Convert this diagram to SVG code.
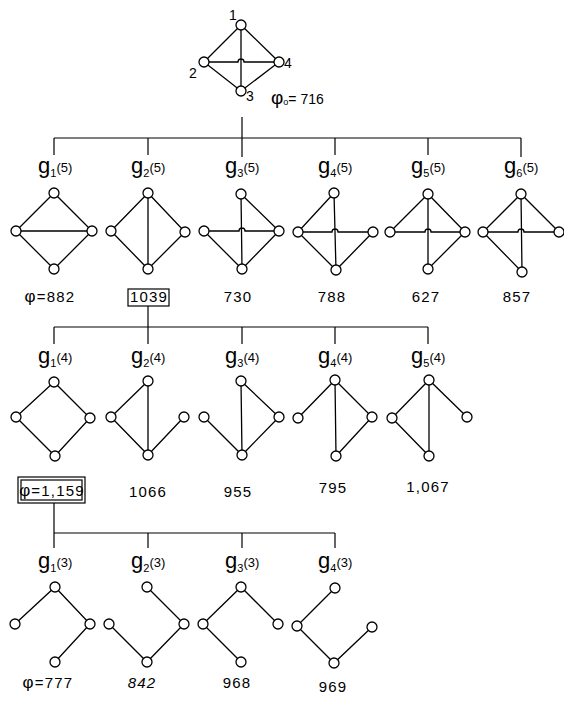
<svg xmlns="http://www.w3.org/2000/svg" width="564" height="703" viewBox="0 0 564 703">
<style>
.e{stroke:#000;stroke-width:1.3;fill:none}
.c{stroke:#000;stroke-width:1.2;fill:none}
.v{fill:#fff;stroke:#000;stroke-width:1.3}
text{font-family:"Liberation Sans",Arial,sans-serif;fill:#000}
.g{font-size:22px}
.sub{font-size:11px}
.sup{font-size:13px}
.n{font-size:15px;letter-spacing:1.2px;text-anchor:middle}
.lab{font-size:14px}
.box{fill:none;stroke:#000;stroke-width:1.2}
</style>
<rect width="564" height="703" fill="#fff"/>

<g id="connectors">
  <path class="c" d="M242,117 V157 M54,138 H521 M54,138 V155 M148,138 V155 M335,138 V155 M428,138 V155 M521,138 V157"/>
  <path class="c" d="M148,306 V344 M54,327 H428 M54,327 V344 M242,327 V344 M335,327 V344 M428,327 V344"/>
  <path class="c" d="M54,503 V548 M54,533 H335 M148,533 V548 M242,533 V548 M335,533 V548"/>
</g>

<g id="g0">
  <path class="e" d="M241,25 L204,62 L241,91 L279,62 Z M241,25 V91 M204,62 H238 a3,3 0 0 1 6,0 H279"/>
  <circle class="v" cx="241" cy="25" r="5"/><circle class="v" cx="204" cy="62" r="5"/>
  <circle class="v" cx="279" cy="62" r="5"/><circle class="v" cx="241" cy="91" r="5"/>
  <text class="lab" x="229" y="20">1</text>
  <text class="lab" x="189" y="78">2</text>
  <text class="lab" x="284" y="68">4</text>
  <text class="lab" x="246" y="101">3</text>
  <text class="lab" x="271" y="104" font-size="15"><tspan font-size="19">φ</tspan><tspan font-size="9" dy="1">o</tspan><tspan dy="-1">= 716</tspan></text>
</g>

<!-- row 1 -->
<g id="g1_5">
  <text class="g" x="38" y="173">g<tspan class="sub" dy="4">1</tspan><tspan class="sup" dy="-5">(5)</tspan></text>
  <path class="e" d="M54,193 L16,231 L54,269 L92,231 Z M16,231 H92"/>
  <circle class="v" cx="54" cy="193" r="5"/><circle class="v" cx="16" cy="231" r="5"/>
  <circle class="v" cx="92" cy="231" r="5"/><circle class="v" cx="54" cy="269" r="5"/>
  <text class="n" x="50" y="302"><tspan font-size="17">φ</tspan>=882</text>
</g>
<g id="g2_5">
  <text class="g" x="131" y="173">g<tspan class="sub" dy="4">2</tspan><tspan class="sup" dy="-5">(5)</tspan></text>
  <path class="e" d="M148,193 L111,231 L148,269 L185,232 Z M148,193 V269"/>
  <circle class="v" cx="148" cy="193" r="5"/><circle class="v" cx="111" cy="231" r="5"/>
  <circle class="v" cx="185" cy="232" r="5"/><circle class="v" cx="148" cy="269" r="5"/>
  <rect class="box" x="128" y="289" width="41" height="17"/>
  <text class="n" x="149" y="302" letter-spacing="0.3">1039</text>
</g>
<g id="g3_5">
  <text class="g" x="225" y="173">g<tspan class="sub" dy="4">3</tspan><tspan class="sup" dy="-5">(5)</tspan></text>
  <path class="e" d="M241,194 L279,231 L242,269 L204,231 M241,194 L242,269 M204,231 H239 a3,3 0 0 1 6,0 H279"/>
  <circle class="v" cx="241" cy="194" r="5"/><circle class="v" cx="204" cy="231" r="5"/>
  <circle class="v" cx="279" cy="231" r="5"/><circle class="v" cx="242" cy="269" r="5"/>
  <text class="n" x="238" y="302">730</text>
</g>
<g id="g4_5">
  <text class="g" x="318" y="173">g<tspan class="sub" dy="4">4</tspan><tspan class="sup" dy="-5">(5)</tspan></text>
  <path class="e" d="M334,193 L298,232 L336,270 L373,232 M334,193 L336,270 M298,232 H332 a3,3 0 0 1 6,0 H373"/>
  <circle class="v" cx="334" cy="193" r="5"/><circle class="v" cx="298" cy="232" r="5"/>
  <circle class="v" cx="373" cy="232" r="5"/><circle class="v" cx="336" cy="270" r="5"/>
  <text class="n" x="332" y="302">788</text>
</g>
<g id="g5_5">
  <text class="g" x="411" y="173">g<tspan class="sub" dy="4">5</tspan><tspan class="sup" dy="-5">(5)</tspan></text>
  <path class="e" d="M390,232 L428,194 L465,232 L428,269 M428,194 V269 M390,232 H425 a3,3 0 0 1 6,0 H465"/>
  <circle class="v" cx="428" cy="194" r="5"/><circle class="v" cx="390" cy="232" r="5"/>
  <circle class="v" cx="465" cy="232" r="5"/><circle class="v" cx="428" cy="269" r="5"/>
  <text class="n" x="426" y="302">627</text>
</g>
<g id="g6_5">
  <text class="g" x="504" y="173">g<tspan class="sub" dy="4">6</tspan><tspan class="sup" dy="-5">(5)</tspan></text>
  <path class="e" d="M522,272 L483,232 L521,194 L559,232 M521,194 L522,272 M483,232 H518 a3,3 0 0 1 6,0 H559"/>
  <circle class="v" cx="521" cy="194" r="5"/><circle class="v" cx="483" cy="232" r="5"/>
  <circle class="v" cx="559" cy="232" r="5"/><circle class="v" cx="522" cy="272" r="5"/>
  <text class="n" x="517" y="302">857</text>
</g>

<!-- row 2 -->
<g id="g1_4">
  <text class="g" x="38" y="363">g<tspan class="sub" dy="4">1</tspan><tspan class="sup" dy="-5">(4)</tspan></text>
  <path class="e" d="M54,382 L16,417 L55,456 L90,418 Z"/>
  <circle class="v" cx="54" cy="382" r="5"/><circle class="v" cx="16" cy="417" r="5"/>
  <circle class="v" cx="90" cy="418" r="5"/><circle class="v" cx="55" cy="456" r="5"/>
  <rect class="box" x="18" y="477" width="67" height="26"/>
  <rect class="box" x="21" y="480" width="61" height="20"/>
  <text class="n" x="52" y="496" letter-spacing="0"><tspan font-size="17">φ</tspan>=1,159</text>
</g>
<g id="g2_4">
  <text class="g" x="131" y="363">g<tspan class="sub" dy="4">2</tspan><tspan class="sup" dy="-5">(4)</tspan></text>
  <path class="e" d="M148,381 L111,417 L148,455 L184,417 M148,381 V455"/>
  <circle class="v" cx="148" cy="381" r="5"/><circle class="v" cx="111" cy="417" r="5"/>
  <circle class="v" cx="184" cy="417" r="5"/><circle class="v" cx="148" cy="455" r="5"/>
  <text class="n" x="148" y="497">1066</text>
</g>
<g id="g3_4">
  <text class="g" x="225" y="363">g<tspan class="sub" dy="4">3</tspan><tspan class="sup" dy="-5">(4)</tspan></text>
  <path class="e" d="M241,381 L279,417 L242,455 L204,417 M241,381 L242,455"/>
  <circle class="v" cx="241" cy="381" r="5"/><circle class="v" cx="204" cy="417" r="5"/>
  <circle class="v" cx="279" cy="417" r="5"/><circle class="v" cx="242" cy="455" r="5"/>
  <text class="n" x="238" y="497">955</text>
</g>
<g id="g4_4">
  <text class="g" x="318" y="363">g<tspan class="sub" dy="4">4</tspan><tspan class="sup" dy="-5">(4)</tspan></text>
  <path class="e" d="M298,418 L335,380 L372,417 L336,456 M335,380 L336,456"/>
  <circle class="v" cx="335" cy="380" r="5"/><circle class="v" cx="298" cy="418" r="5"/>
  <circle class="v" cx="372" cy="417" r="5"/><circle class="v" cx="336" cy="456" r="5"/>
  <text class="n" x="333" y="493">795</text>
</g>
<g id="g5_4">
  <text class="g" x="411" y="363">g<tspan class="sub" dy="4">5</tspan><tspan class="sup" dy="-5">(4)</tspan></text>
  <path class="e" d="M467,417 L429,380 L392,418 L429,456 M429,380 V456"/>
  <circle class="v" cx="429" cy="380" r="5"/><circle class="v" cx="392" cy="418" r="5"/>
  <circle class="v" cx="467" cy="417" r="5"/><circle class="v" cx="429" cy="456" r="5"/>
  <text class="n" x="428" y="492" letter-spacing="0.3">1,067</text>
</g>

<!-- row 3 -->
<g id="g1_3">
  <text class="g" x="38" y="568">g<tspan class="sub" dy="4">1</tspan><tspan class="sup" dy="-5">(3)</tspan></text>
  <path class="e" d="M15,624 L55,587 L90,624 L55,662"/>
  <circle class="v" cx="55" cy="587" r="5"/><circle class="v" cx="15" cy="624" r="5"/>
  <circle class="v" cx="90" cy="624" r="5"/><circle class="v" cx="55" cy="662" r="5"/>
  <text class="n" x="48" y="688" letter-spacing="2.2"><tspan font-size="17">φ</tspan>=777</text>
</g>
<g id="g2_3">
  <text class="g" x="131" y="568">g<tspan class="sub" dy="4">2</tspan><tspan class="sup" dy="-5">(3)</tspan></text>
  <path class="e" d="M147,587 L184,624 L147,662 L109,624"/>
  <circle class="v" cx="147" cy="587" r="5"/><circle class="v" cx="109" cy="624" r="5"/>
  <circle class="v" cx="184" cy="624" r="5"/><circle class="v" cx="147" cy="662" r="5"/>
  <text class="n" x="142" y="688" font-style="italic" letter-spacing="2">842</text>
</g>
<g id="g3_3">
  <text class="g" x="225" y="568">g<tspan class="sub" dy="4">3</tspan><tspan class="sup" dy="-5">(3)</tspan></text>
  <path class="e" d="M278,624 L241,587 L203,624 L241,662"/>
  <circle class="v" cx="241" cy="587" r="5"/><circle class="v" cx="203" cy="624" r="5"/>
  <circle class="v" cx="278" cy="624" r="5"/><circle class="v" cx="241" cy="662" r="5"/>
  <text class="n" x="237" y="688">968</text>
</g>
<g id="g4_3">
  <text class="g" x="318" y="568">g<tspan class="sub" dy="4">4</tspan><tspan class="sup" dy="-5">(3)</tspan></text>
  <path class="e" d="M335,588 L297,626 L334,663 L372,627"/>
  <circle class="v" cx="335" cy="588" r="5"/><circle class="v" cx="297" cy="626" r="5"/>
  <circle class="v" cx="372" cy="627" r="5"/><circle class="v" cx="334" cy="663" r="5"/>
  <text class="n" x="333" y="692">969</text>
</g>
</svg>
